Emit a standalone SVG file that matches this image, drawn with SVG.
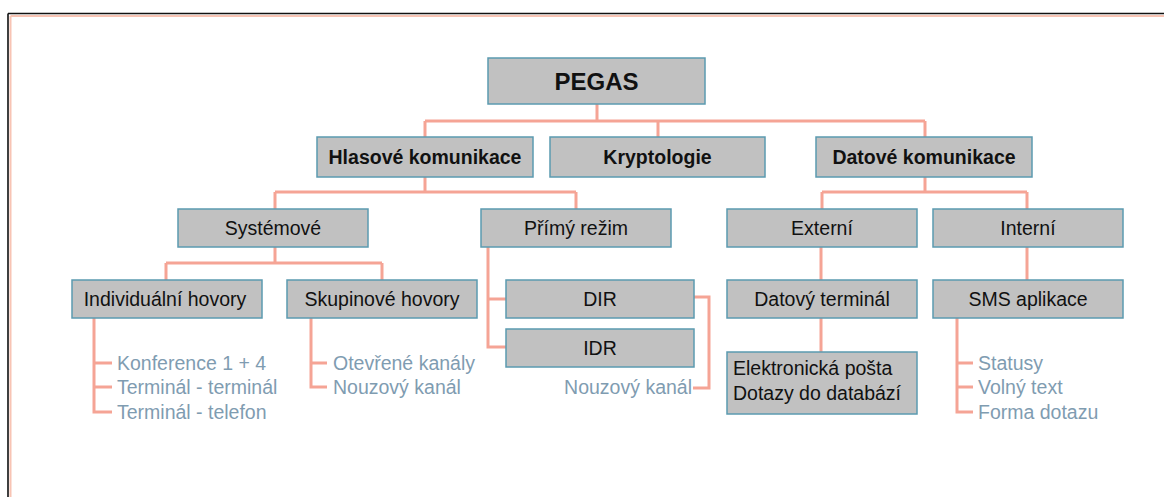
<svg xmlns="http://www.w3.org/2000/svg" width="1164" height="497" viewBox="0 0 1164 497">
<style>
.box{fill:#c1c1c1;stroke:#5b9ab0;stroke-width:1.5}
.t{font-family:"Liberation Sans",Arial,sans-serif;font-size:19.5px;fill:#111;text-anchor:middle}
.b{font-weight:bold}
.l{font-family:"Liberation Sans",Arial,sans-serif;font-size:19.5px;fill:#7f9cb1}
.c{fill:none;stroke:#f5a495;stroke-width:3}
</style>
<rect width="1164" height="497" fill="#fff"/>
<g id="frame">
<path d="M8,13.5 H1164 M8,13.5 V497" fill="none" stroke="#111" stroke-width="1.6"/>
<path d="M10.5,16 H1164 M10.5,16 V497" fill="none" stroke="#f8c4b4" stroke-width="2"/>
</g>
<g id="connectors" class="c">
<path d="M597,104 V121 M425,121 H925 M425,121 V137 M658,121 V137 M925,121 V137"/>
<path d="M425,177 V192 M275,192 H576 M275,192 V209 M576,192 V209"/>
<path d="M925,176 V192 M822,192 H1027 M822,192 V209 M1027,192 V209"/>
<path d="M275,247 V263 M166,263 H382 M166,263 V280 M382,263 V280"/>
<path d="M94,318 V412 H112 M94,363 H112 M94,387 H112"/>
<path d="M311,318 V387 H327 M311,363 H327"/>
<path d="M488,247 V347 H506 M488,299 H506"/>
<path d="M694,297 H709 V388 H693"/>
<path d="M821,247 V280 M821,318 V352"/>
<path d="M1027,247 V280"/>
<path d="M957,318 V412 H973 M957,363 H973 M957,387 H973"/>
</g>
<g id="pegas"><rect class="box" x="488" y="58" width="217" height="46"/><text class="t b" x="596.5" y="89.5" style="font-size:24px">PEGAS</text></g>
<g id="hlasove"><rect class="box" x="317" y="137" width="216" height="40"/><text class="t b" x="425" y="164">Hlasové komunikace</text></g>
<g id="kryptologie"><rect class="box" x="550" y="137" width="215" height="40"/><text class="t b" x="657.5" y="164">Kryptologie</text></g>
<g id="datove"><rect class="box" x="816" y="137" width="216" height="40"/><text class="t b" x="924" y="164">Datové komunikace</text></g>
<g id="systemove"><rect class="box" x="178" y="209" width="190" height="38"/><text class="t" x="273" y="235">Systémové</text></g>
<g id="primy"><rect class="box" x="481" y="209" width="190" height="38"/><text class="t" x="576" y="235">Přímý režim</text></g>
<g id="externi"><rect class="box" x="727" y="209" width="190" height="38"/><text class="t" x="822" y="235">Externí</text></g>
<g id="interni"><rect class="box" x="933" y="209" width="190" height="38"/><text class="t" x="1028" y="235">Interní</text></g>
<g id="individualni"><rect class="box" x="72" y="280" width="190" height="38"/><text class="t" x="165" y="306">Individuální hovory</text></g>
<g id="skupinove"><rect class="box" x="287" y="280" width="190" height="38"/><text class="t" x="382" y="306">Skupinové hovory</text></g>
<g id="dir"><rect class="box" x="506" y="280" width="188" height="38"/><text class="t" x="600" y="306">DIR</text></g>
<g id="idr"><rect class="box" x="506" y="329" width="188" height="38"/><text class="t" x="600" y="355">IDR</text></g>
<g id="datovy-terminal"><rect class="box" x="727" y="280" width="190" height="38"/><text class="t" x="822" y="306">Datový terminál</text></g>
<g id="elektronicka"><rect class="box" x="727" y="352" width="190" height="62"/><text class="t" x="733" y="375" style="text-anchor:start">Elektronická pošta</text><text class="t" x="733" y="400" style="text-anchor:start">Dotazy do databází</text></g>
<g id="sms"><rect class="box" x="933" y="280" width="190" height="38"/><text class="t" x="1028" y="306">SMS aplikace</text></g>
<g id="individualni-list"><text class="l" x="117" y="370">Konference 1 + 4</text><text class="l" x="117" y="394">Terminál - terminál</text><text class="l" x="117" y="419">Terminál - telefon</text></g>
<g id="skupinove-list"><text class="l" x="333" y="370">Otevřené kanály</text><text class="l" x="333" y="394">Nouzový kanál</text></g>
<g id="dir-list"><text class="l" x="692" y="394" style="text-anchor:end">Nouzový kanál</text></g>
<g id="sms-list"><text class="l" x="978" y="370">Statusy</text><text class="l" x="978" y="394">Volný text</text><text class="l" x="978" y="419">Forma dotazu</text></g>
</svg>
